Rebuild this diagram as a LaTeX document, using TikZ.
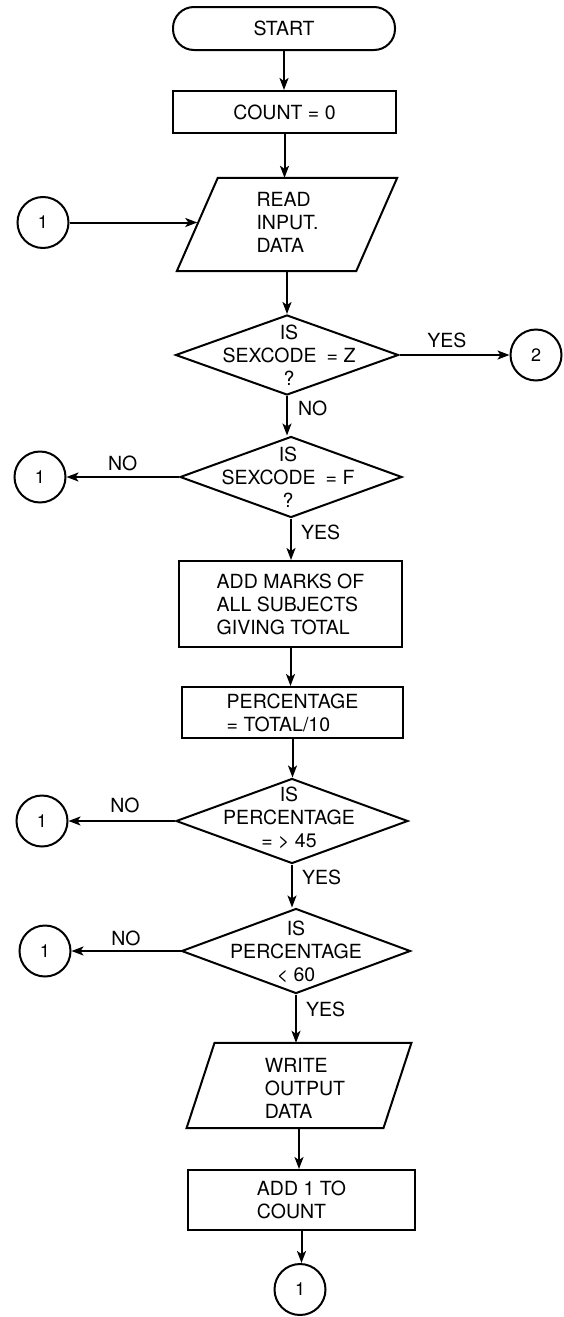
\documentclass[tikz,border=0pt]{standalone}
\usepackage{fontspec}
\setmainfont{TeX Gyre Heros}
\usetikzlibrary{shapes.geometric,arrows.meta}
\begin{document}
\begin{tikzpicture}[x=1pt,y=-1pt,
  every node/.style={font=\fontsize{19.5}{23}\selectfont},
  line/.style={line width=2pt},
  arr/.style={line width=2pt,-{Stealth[length=12pt,width=9pt,inset=3pt]}},
  term/.style={draw, line width=2pt, rectangle, rounded corners=21pt, minimum width=222pt, minimum height=43pt, inner sep=0pt},
  procbox/.style={draw, line width=2pt, rectangle, inner sep=0pt, align=left},
  iobox/.style={rectangle, inner sep=0pt},
  diam/.style={draw, line width=2pt, diamond, inner sep=0pt},
  btext/.style={align=left, inner sep=0pt},
  dtext/.style={align=center, inner sep=0pt},
  conn/.style={draw, line width=2pt, circle, minimum size=51pt, inner sep=0pt, font=\fontsize{18}{20}\selectfont},
  lbl/.style={inner sep=0pt},
]
\useasboundingbox (0,0) rectangle (563,1317);

% shapes
\node[term] (start) at (284,28.5) {START};
\node[procbox, minimum width=223pt, minimum height=42pt] (count) at (284.5,112) {COUNT = 0};

\node[iobox, minimum width=179pt, minimum height=93pt] (read) at (287,224.5) {};
\draw[line] ([xshift=20.5pt]read.north west) -- ([xshift=20.5pt]read.north east) -- ([xshift=-20.5pt]read.south east) -- ([xshift=-20.5pt]read.south west) -- cycle;
\node[btext] (readt) at (287.5,222.5) {READ\\INPUT.\\DATA};

\node[conn] (c1a) at (43,222.5) {1};

\node[diam, minimum width=223pt, minimum height=80pt] (d1) at (287,355) {};
\node[dtext] (d1t) at (289,355) {IS\\SEXCODE\hspace{10pt}= Z\\?};
\node[conn] (c2) at (536,355) {2};

\node[diam, minimum width=222pt, minimum height=81pt] (d2) at (291,477) {};
\node[dtext] (d2t) at (288,477.5) {IS\\SEXCODE\hspace{10pt}= F\\?};
\node[conn] (c1b) at (40,477) {1};

\node[procbox, minimum width=223pt, minimum height=86pt] (b3) at (290.5,604) {ADD MARKS OF\\ALL SUBJECTS\\GIVING TOTAL};
\node[procbox, minimum width=221pt, minimum height=51pt] (b4) at (292.5,712.5) {PERCENTAGE\\= TOTAL/10};

\node[diam, minimum width=232pt, minimum height=85pt] (d3) at (292,821) {};
\node[dtext] (d3t) at (289,818) {IS\\PERCENTAGE\\= > 45};
\node[conn] (c1c) at (42,821) {1};

\node[diam, minimum width=229pt, minimum height=85pt] (d4) at (296,951) {};
\node[dtext] (d4t) at (296,952) {IS\\PERCENTAGE\\< 60};
\node[conn] (c1d) at (45,951) {1};

\node[iobox, minimum width=196.5pt, minimum height=85pt] (wr) at (299,1085.5) {};
\draw[line] ([xshift=14pt]wr.north west) -- ([xshift=14pt]wr.north east) -- ([xshift=-14pt]wr.south east) -- ([xshift=-14pt]wr.south west) -- cycle;
\node[btext] (wrt) at (305,1088) {WRITE\\OUTPUT\\DATA};

\node[procbox, minimum width=227pt, minimum height=60pt] (b5) at (301.5,1200) {ADD 1 TO\\COUNT};
\node[conn] (cend) at (300,1289.5) {1};

% connectors
\draw[arr] (start.south) -- (start.south |- count.north);
\draw[arr] (count.south) -- (count.south |- read.north);
\draw[arr] (c1a.east) -- (c1a.east -| read.west);
\draw[arr] (read.south) -- (read.south |- d1.north);
\draw[arr] (d1.east) -- node[lbl, above=6pt, pos=0.43] (lyes1) {YES} (d1.east -| c2.west);
\draw[arr] (d1.south) -- node[lbl, right=10pt, pos=0.32] (lno1) {NO} (d1.south |- d2.north);
\draw[arr] (d2.west) -- node[lbl, above=5pt, pos=0.5] (lno2) {NO} (d2.west -| c1b.east);
\draw[arr] (d2.south) -- node[lbl, right=9pt, pos=0.34] (lyes2) {YES} (d2.south |- b3.north);
\draw[arr] (b3.south) -- (b3.south |- b4.north);
\draw[arr] (b4.south) -- (b4.south |- d3.north);
\draw[arr] (d3.west) -- node[lbl, above=7pt, pos=0.47] (lno3) {NO} (d3.west -| c1c.east);
\draw[arr] (d3.south) -- node[lbl, right=9pt, pos=0.31] (lyes3) {YES} (d3.south |- d4.north);
\draw[arr] (d4.west) -- node[lbl, above=4pt, pos=0.5] (lno4) {NO} (d4.west -| c1d.east);
\draw[arr] (d4.south) -- node[lbl, right=9pt, pos=0.3] (lyes4) {YES} (d4.south |- wr.north);
\draw[arr] (wr.south) -- (wr.south |- b5.north);
\draw[arr] (b5.south) -- (b5.south |- cend.north);
\end{tikzpicture}
\end{document}
